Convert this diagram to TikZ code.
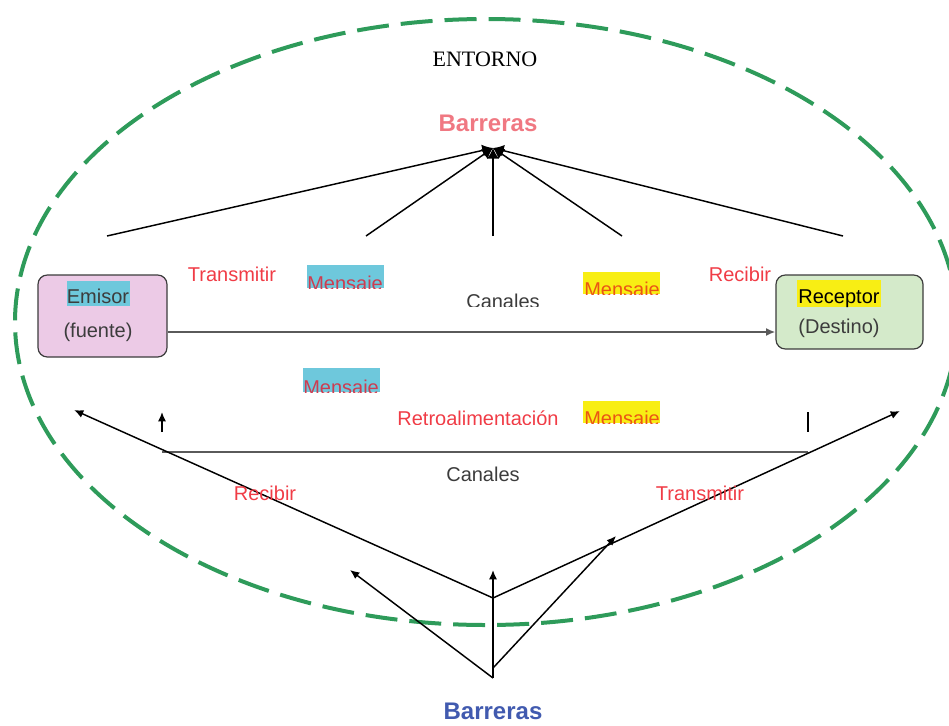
\documentclass[tikz,border=0pt]{standalone}
\usepackage{fontspec}
\setmainfont{Liberation Sans}
\newfontfamily\serifrm{Liberation Serif}
\usetikzlibrary{arrows.meta}

\definecolor{envgreen}{RGB}{46,155,90}
\definecolor{emisorfill}{RGB}{236,202,230}
\definecolor{receptorfill}{RGB}{212,234,202}
\definecolor{hlcyan}{RGB}{110,200,220}
\definecolor{hlyellow}{RGB}{248,238,20}
\definecolor{verbred}{RGB}{240,60,70}
\definecolor{msgred}{RGB}{205,60,80}
\definecolor{msgorange}{RGB}{235,85,20}
\definecolor{barpink}{RGB}{240,120,130}
\definecolor{barblue}{RGB}{65,90,175}
\definecolor{chgray}{RGB}{90,90,90}
\definecolor{txtgray}{RGB}{60,60,60}

\tikzset{
  env/.style={envgreen, line width=3pt, dash pattern=on 24pt off 9pt},
  box/.style={draw=txtgray, line width=0.9pt, rounded corners=7pt, inner sep=0pt},
  lbl/.style={inner sep=0pt, anchor=base, font=\fontsize{15}{18}\selectfont},
  verb/.style={lbl, text=verbred},
  bar/.style={lbl, font=\fontsize{18}{21}\selectfont\bfseries},
  ray/.style={black, line width=1.1pt},
  tip/.style={-{Latex[length=7pt,width=6pt]}},
  hubtip/.style={-{Latex[length=8pt,width=9pt]}},
  chan/.style={chgray, line width=1.6pt},
}

\begin{document}
\begin{tikzpicture}[x=0.75pt,y=-0.75pt]
\useasboundingbox (0,0) rectangle (949,725);

% surrounding environment
\draw[env] (486,322) ellipse [x radius=471, y radius=303];
\node[inner sep=0pt, anchor=base, font=\serifrm\fontsize{16.5}{19}\selectfont] (entorno) at (485,66) {ENTORNO};

% upper barriers converging on a single point
\node[bar, text=barpink] (bartop) at (488,131) {Barreras};
\coordinate (hub) at (493,148);
\coordinate (r1) at (107,236);
\coordinate (r2) at (366,236);
\coordinate (r3) at (493,236);
\coordinate (r4) at (622,236);
\coordinate (r5) at (843,236);
\foreach \p in {r1,r2,r3,r4,r5} \draw[ray, hubtip] (\p) -- (hub);

% sender and receiver
\node[box, fill=emisorfill, minimum width=96.75pt, minimum height=61.5pt] (emisor) at (102.5,316) {};
\node[box, fill=receptorfill, minimum width=110.25pt, minimum height=55.5pt] (receptor) at (849.5,312) {};
\fill[hlcyan] (67,281) rectangle (130,306);
\node[lbl, text=txtgray] (emisorlbl) at (98,303) {Emisor};
\node[lbl, text=txtgray] (fuente) at (98,337) {(fuente)};
\fill[hlyellow] (797,280) rectangle (881,307);
\node[lbl, text=black] (receptorlbl) at (839,303) {Receptor};
\node[lbl, text=txtgray] (destino) at (839,333) {(Destino)};

% forward channel
\draw[chan, tip] ([yshift=-12pt]emisor.east) -- ([yshift=-15pt]receptor.west);
\node[verb] (transmitir) at (232,281) {Transmitir};
\node[verb] (recibir) at (740,281) {Recibir};
\begin{scope}
  \clip (440,280) rectangle (570,306);
  \node[lbl, text=txtgray] (canales1) at (503,308) {Canales};
\end{scope}

% message tags
\fill[hlcyan] (307,265) rectangle (384,288);
\begin{scope}
  \clip (307,265) rectangle (384,288);
  \node[lbl, text=msgred, anchor=base west] (m1) at (307,290) {Mensaje};
\end{scope}
\fill[hlyellow] (583,272) rectangle (660,294);
\begin{scope}
  \clip (583,272) rectangle (660,294);
  \node[lbl, text=msgorange, anchor=base west] (m2) at (584,296) {Mensaje};
\end{scope}
\fill[hlcyan] (303,368) rectangle (380,392);
\begin{scope}
  \clip (303,368) rectangle (380,392);
  \node[lbl, text=msgred, anchor=base west] (m3) at (303,394) {Mensaje};
\end{scope}
\fill[hlyellow] (583,401) rectangle (660,423);
\begin{scope}
  \clip (583,401) rectangle (660,423);
  \node[lbl, text=msgorange, anchor=base west] (m4) at (584,425) {Mensaje};
\end{scope}

% feedback channel
\begin{scope}
  \clip (380,400) rectangle (570,424);
  \node[verb] (retro) at (478,425) {Retroalimentación};
\end{scope}
\coordinate (f1) at (162,452);
\coordinate (f2) at (808,452);
\draw[chan] (f1) -- (f2);
\node[lbl, text=txtgray] (canales2) at (483,481) {Canales};
\coordinate (sa0) at (162,432);
\coordinate (sa1) at (162,412);
\draw[ray, tip] (sa0) -- (sa1);
\coordinate (tk0) at (808,412);
\coordinate (tk1) at (808,432);
\draw[ray] (tk0) -- (tk1);

% return paths through the lower barriers
\coordinate (vtx) at (493,598);
\coordinate (lt) at (74,410);
\coordinate (rt) at (900,411);
\draw[ray, tip] (vtx) -- (lt);
\draw[ray, tip] (vtx) -- (rt);
\node[verb] (recibir2) at (265,500) {Recibir};
\node[verb] (transmitir2) at (700,500) {Transmitir};

\coordinate (b0) at (493,678);
\coordinate (b1) at (493,668);
\coordinate (bl) at (350,570);
\coordinate (bu) at (493,570);
\coordinate (bj) at (616,536);
\draw[ray, tip] (b0) -- (bl);
\draw[ray, tip] (b0) -- (bu);
\draw[ray, tip] (b1) -- (bj);
\node[bar, text=barblue] (barbottom) at (493,719) {Barreras};
\end{tikzpicture}
\end{document}
